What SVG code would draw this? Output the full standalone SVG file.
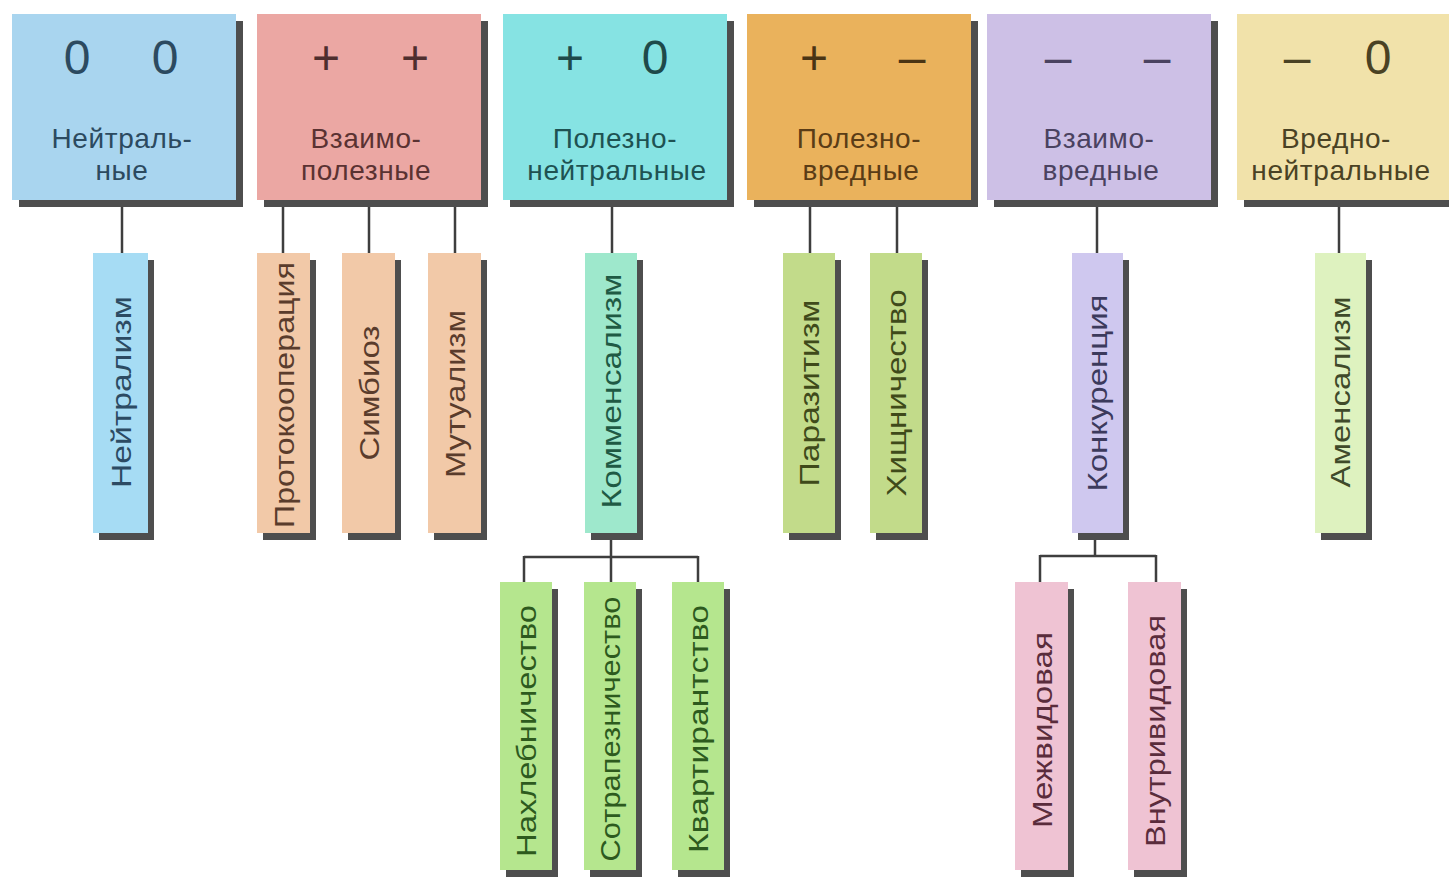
<svg xmlns="http://www.w3.org/2000/svg" width="1449" height="882" viewBox="0 0 1449 882">
<defs>
<style>
.bg{fill:#ffffff}
.sh{fill:#4e4e4e}
.sym{font-family:"Liberation Sans",Arial,sans-serif;font-size:48px;text-anchor:middle}
.ttl{font-family:"Liberation Sans",Arial,sans-serif;font-size:28px;text-anchor:middle;letter-spacing:0.6px}
.vt{font-family:"Liberation Sans",Arial,sans-serif;font-size:27px;text-anchor:middle}
.con{stroke:#3e3e3e;stroke-width:2.5;fill:none}
</style>
</defs>
<rect class="bg" x="0" y="0" width="1449" height="882"/>

<g id="connectors">
<path class="con" d="M122 205V253"/>
<path class="con" d="M283 205V253M369 205V253M455 205V253"/>
<path class="con" d="M612 205V253"/>
<path class="con" d="M810 205V253M897 205V253"/>
<path class="con" d="M1097 205V253"/>
<path class="con" d="M1339 205V253"/>
<path class="con" d="M611 538V557M524 557H698M524 556V582M611 556V582M698 556V582"/>
<path class="con" d="M1095 538V556M1040 556H1156M1040 555V582M1156 555V582"/>
</g>

<!-- top category boxes -->
<g id="top-neutral">
<rect class="sh" x="19" y="21" width="224" height="186"/>
<rect x="12" y="14" width="224" height="186" fill="#a9d5ef"/>
<text class="sym" x="77" y="74" fill="#2c4a60">0</text>
<text class="sym" x="165" y="74" fill="#2c4a60">0</text>
<text class="ttl" x="122" y="148" fill="#2c4a60">Нейтраль-</text>
<text class="ttl" x="122" y="180" fill="#2c4a60">ные</text>
</g>
<g id="top-mutual-benefit">
<rect class="sh" x="264" y="21" width="224" height="186"/>
<rect x="257" y="14" width="224" height="186" fill="#eba7a3"/>
<text class="sym" x="326" y="74" fill="#4e2e2e">+</text>
<text class="sym" x="415" y="74" fill="#4e2e2e">+</text>
<text class="ttl" x="366" y="148" fill="#5a3232">Взаимо-</text>
<text class="ttl" x="366" y="180" fill="#5a3232">полезные</text>
</g>
<g id="top-beneficial-neutral">
<rect class="sh" x="510" y="21" width="224" height="186"/>
<rect x="503" y="14" width="224" height="186" fill="#86e3e3"/>
<text class="sym" x="570" y="74" fill="#1e4a4a">+</text>
<text class="sym" x="655" y="74" fill="#1e4a4a">0</text>
<text class="ttl" x="615" y="148" fill="#1e5252">Полезно-</text>
<text class="ttl" x="617" y="180" fill="#1e5252">нейтральные</text>
</g>
<g id="top-beneficial-harmful">
<rect class="sh" x="754" y="21" width="224" height="186"/>
<rect x="747" y="14" width="224" height="186" fill="#eab25c"/>
<text class="sym" x="814" y="74" fill="#4a3414">+</text>
<text class="sym" x="912" y="74" fill="#4a3414">–</text>
<text class="ttl" x="859" y="148" fill="#5a3c16">Полезно-</text>
<text class="ttl" x="861" y="180" fill="#5a3c16">вредные</text>
</g>
<g id="top-mutual-harm">
<rect class="sh" x="994" y="21" width="224" height="186"/>
<rect x="987" y="14" width="224" height="186" fill="#cdc0e6"/>
<text class="sym" x="1058" y="74" fill="#4a4260">–</text>
<text class="sym" x="1157" y="74" fill="#4a4260">–</text>
<text class="ttl" x="1099" y="148" fill="#4a4260">Взаимо-</text>
<text class="ttl" x="1101" y="180" fill="#4a4260">вредные</text>
</g>
<g id="top-harmful-neutral">
<rect class="sh" x="1244" y="21" width="224" height="186"/>
<rect x="1237" y="14" width="224" height="186" fill="#f1e2aa"/>
<text class="sym" x="1297" y="74" fill="#4a4224">–</text>
<text class="sym" x="1378" y="74" fill="#4a4224">0</text>
<text class="ttl" x="1336" y="148" fill="#4a4224">Вредно-</text>
<text class="ttl" x="1341" y="180" fill="#4a4224">нейтральные</text>
</g>

<!-- first level -->
<g id="neutralism">
<rect class="sh" x="99" y="260" width="55" height="280"/>
<rect x="93" y="253" width="55" height="280" fill="#a6dcf4"/>
<text class="vt" transform="translate(131,392) rotate(-90)" textLength="192" lengthAdjust="spacingAndGlyphs" fill="#2c4b63">Нейтрализм</text>
</g>
<g id="protocooperation">
<rect class="sh" x="263" y="260" width="53" height="280"/>
<rect x="257" y="253" width="53" height="280" fill="#f2c9a8"/>
<text class="vt" transform="translate(294,395) rotate(-90)" textLength="266" lengthAdjust="spacingAndGlyphs" fill="#5a3c2c">Протокооперация</text>
</g>
<g id="symbiosis">
<rect class="sh" x="348" y="260" width="53" height="280"/>
<rect x="342" y="253" width="53" height="280" fill="#f2c9a8"/>
<text class="vt" transform="translate(379,393) rotate(-90)" textLength="135" lengthAdjust="spacingAndGlyphs" fill="#5a3c2c">Симбиоз</text>
</g>
<g id="mutualism">
<rect class="sh" x="434" y="260" width="53" height="280"/>
<rect x="428" y="253" width="53" height="280" fill="#f2c9a8"/>
<text class="vt" transform="translate(465,394) rotate(-90)" textLength="168" lengthAdjust="spacingAndGlyphs" fill="#5a3c2c">Мутуализм</text>
</g>
<g id="commensalism">
<rect class="sh" x="591" y="260" width="52" height="280"/>
<rect x="585" y="253" width="52" height="280" fill="#9ee8cc"/>
<text class="vt" transform="translate(621,391) rotate(-90)" textLength="235" lengthAdjust="spacingAndGlyphs" fill="#1f5a44">Комменсализм</text>
</g>
<g id="parasitism">
<rect class="sh" x="789" y="260" width="52" height="280"/>
<rect x="783" y="253" width="52" height="280" fill="#c2db8a"/>
<text class="vt" transform="translate(819,393) rotate(-90)" textLength="187" lengthAdjust="spacingAndGlyphs" fill="#3f4a1a">Паразитизм</text>
</g>
<g id="predation">
<rect class="sh" x="876" y="260" width="52" height="280"/>
<rect x="870" y="253" width="52" height="280" fill="#c2db8a"/>
<text class="vt" transform="translate(906,393) rotate(-90)" textLength="207" lengthAdjust="spacingAndGlyphs" fill="#3f4a1a">Хищничество</text>
</g>
<g id="competition">
<rect class="sh" x="1078" y="260" width="51" height="280"/>
<rect x="1072" y="253" width="51" height="280" fill="#cfc8ef"/>
<text class="vt" transform="translate(1107,393) rotate(-90)" textLength="197" lengthAdjust="spacingAndGlyphs" fill="#3c3a5c">Конкуренция</text>
</g>
<g id="amensalism">
<rect class="sh" x="1321" y="260" width="51" height="280"/>
<rect x="1315" y="253" width="51" height="280" fill="#def2bf"/>
<text class="vt" transform="translate(1350,392) rotate(-90)" textLength="191" lengthAdjust="spacingAndGlyphs" fill="#3f4a2a">Аменсализм</text>
</g>

<!-- second level -->
<g id="freeloading">
<rect class="sh" x="506" y="589" width="52" height="288"/>
<rect x="500" y="582" width="52" height="288" fill="#b5e68e"/>
<text class="vt" transform="translate(536,731) rotate(-90)" textLength="252" lengthAdjust="spacingAndGlyphs" fill="#2d5a1e">Нахлебничество</text>
</g>
<g id="table-sharing">
<rect class="sh" x="590" y="589" width="52" height="288"/>
<rect x="584" y="582" width="52" height="288" fill="#b5e68e"/>
<text class="vt" transform="translate(620,729) rotate(-90)" textLength="265" lengthAdjust="spacingAndGlyphs" fill="#2d5a1e">Сотрапезничество</text>
</g>
<g id="tenancy">
<rect class="sh" x="678" y="589" width="52" height="288"/>
<rect x="672" y="582" width="52" height="288" fill="#b5e68e"/>
<text class="vt" transform="translate(708,729) rotate(-90)" textLength="248" lengthAdjust="spacingAndGlyphs" fill="#2d5a1e">Квартирантство</text>
</g>
<g id="interspecific">
<rect class="sh" x="1021" y="589" width="53" height="288"/>
<rect x="1015" y="582" width="53" height="288" fill="#efc3d3"/>
<text class="vt" transform="translate(1052,730) rotate(-90)" textLength="196" lengthAdjust="spacingAndGlyphs" fill="#5a2c3c">Межвидовая</text>
</g>
<g id="intraspecific">
<rect class="sh" x="1134" y="589" width="53" height="288"/>
<rect x="1128" y="582" width="53" height="288" fill="#efc3d3"/>
<text class="vt" transform="translate(1165,731) rotate(-90)" textLength="232" lengthAdjust="spacingAndGlyphs" fill="#5a2c3c">Внутривидовая</text>
</g>
</svg>
